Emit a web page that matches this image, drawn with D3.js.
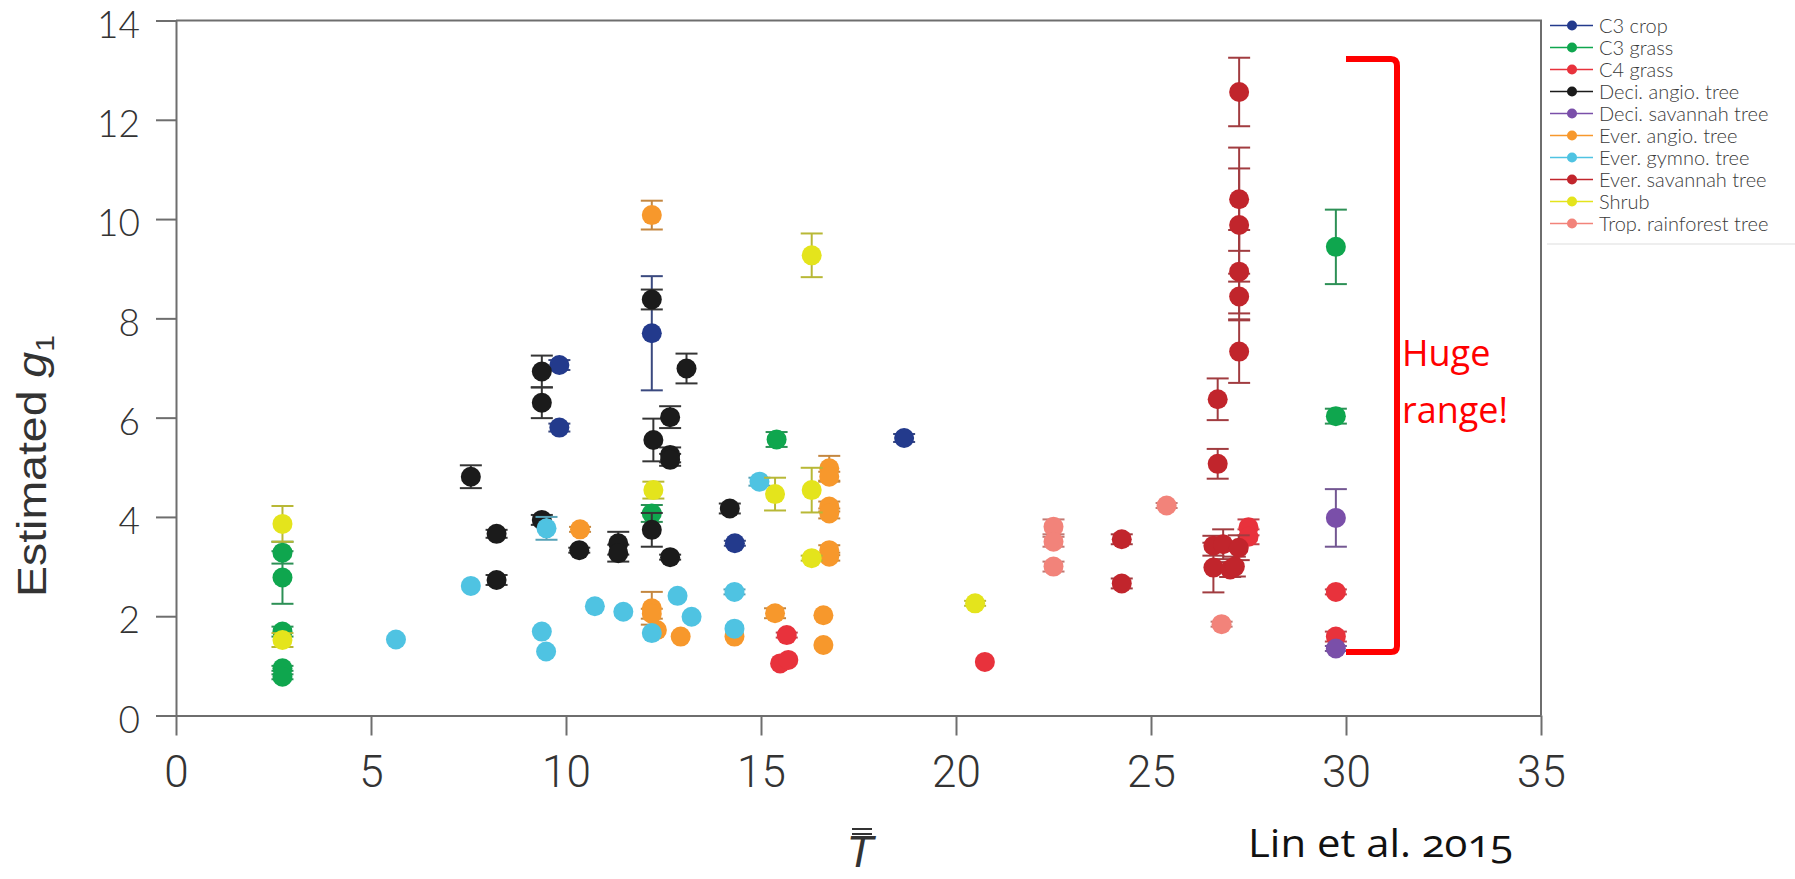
<!DOCTYPE html>
<html>
<head>
<meta charset="utf-8">
<script src="https://cdn.jsdelivr.net/npm/d3@7"></script>
<style>
  body { margin: 0; background: #fff; }
  svg { display: block; }
</style>
</head>
<body>
<svg id="chart" width="1795" height="879"></svg>
<script>
// series names + colours (legend order)
const seriesNames = ["C3 crop", "C3 grass", "C4 grass", "Deci. angio. tree", "Deci. savannah tree",
  "Ever. angio. tree", "Ever. gymno. tree", "Ever. savannah tree", "Shrub", "Trop. rainforest tree"];
const seriesColors = ["#233a8c", "#0fa64e", "#e8323c", "#1b1b1b", "#7a4fa9",
  "#f7982c", "#4fc3e2", "#c1252c", "#e4e41c", "#f2837a"];

// points as [Tbar, g1, error]
const c3Crop = [[9.83, 7.06, 0.1], [9.83, 5.80, 0.08], [12.2, 7.70, 1.15], [14.33, 3.47, 0.05], [18.67, 5.59, 0.08]];
const c3Grass = [[2.73, 3.28, 0.22], [2.73, 2.78, 0.53], [2.73, 1.69, 0.1], [2.73, 0.95, 0.05], [2.73, 0.78, 0.05],
  [12.2, 4.07, 0.17], [15.4, 5.56, 0.15], [29.74, 9.44, 0.75], [29.74, 6.03, 0.15]];
const c4Grass = [[15.66, 1.62, 0.05], [15.49, 1.05, 0], [15.7, 1.12, 0], [20.74, 1.08, 0], [27.5, 3.79, 0.16],
  [27.5, 3.6, 0.15], [29.74, 2.49, 0.05], [29.74, 1.59, 0.1]];
const deciAngio = [[7.56, 4.81, 0.23], [8.22, 3.66, 0.08], [8.22, 2.73, 0.1], [9.38, 6.93, 0.32], [9.38, 6.30, 0.31],
  [9.38, 3.94, 0.1], [10.34, 3.33, 0.05], [11.34, 3.47, 0.23], [11.34, 3.27, 0.17], [12.2, 8.38, 0.2],
  [12.24, 5.55, 0.43], [12.2, 3.74, 0.34], [12.67, 6.01, 0.22], [12.67, 5.25, 0.15], [12.67, 5.15, 0.12],
  [12.67, 3.19, 0.05], [13.09, 6.99, 0.3], [14.2, 4.17, 0.1]];
const deciSavannah = [[29.74, 3.98, 0.58], [29.74, 1.35, 0.05]];
const everAngio = [[10.36, 3.75, 0.05], [12.2, 10.08, 0.29], [12.2, 2.16, 0.33], [12.2, 2.05, 0.1], [12.33, 1.72, 0],
  [12.94, 1.59, 0], [14.32, 1.59, 0], [15.36, 2.06, 0.1], [16.6, 2.02, 0], [16.6, 1.42, 0], [16.75, 4.98, 0.25],
  [16.75, 4.81, 0.1], [16.75, 4.21, 0.1], [16.75, 4.07, 0.1], [16.75, 3.33, 0.1], [16.75, 3.2, 0.08]];
const everGymno = [[5.64, 1.53, 0], [7.56, 2.61, 0], [9.38, 1.69, 0], [9.49, 1.29, 0], [9.5, 3.77, 0.23],
  [10.74, 2.2, 0], [11.47, 2.09, 0], [12.2, 1.66, 0], [12.86, 2.41, 0], [13.22, 1.99, 0], [14.32, 2.49, 0.05],
  [14.32, 1.75, 0], [14.96, 4.71, 0.08]];
const everSavannah = [[24.25, 3.55, 0.1], [24.25, 2.66, 0.1], [26.6, 3.42, 0.2], [26.6, 2.98, 0.5],
  [26.71, 6.37, 0.42], [26.71, 5.07, 0.3], [26.85, 3.45, 0.3], [27.03, 2.94, 0.15], [27.15, 3.0, 0.2],
  [27.25, 3.38, 0.25], [27.26, 12.56, 0.69], [27.26, 10.40, 1.04], [27.26, 9.88, 1.14], [27.26, 8.94, 0.84],
  [27.26, 8.44, 0.46], [27.26, 7.33, 0.63]];
const shrub = [[2.73, 3.86, 0.36], [2.73, 1.52, 0.14], [12.24, 4.54, 0.17], [15.36, 4.46, 0.33], [16.3, 9.27, 0.44],
  [16.3, 4.54, 0.45], [16.3, 3.17, 0.05], [20.49, 2.26, 0.05]];
const tropRainforest = [[22.5, 3.8, 0.15], [22.5, 3.5, 0.1], [22.5, 3.0, 0.1], [25.4, 4.23, 0.05], [26.81, 1.84, 0.05]];

const seriesData = [c3Crop, c3Grass, c4Grass, deciAngio, deciSavannah, everAngio, everGymno, everSavannah, shrub, tropRainforest];

const xTicks = [0, 5, 10, 15, 20, 25, 30, 35];
const yTicks = [0, 2, 4, 6, 8, 10, 12, 14];

const svg = d3.select("#chart");
svg.append("rect").attr("width", 1795).attr("height", 879).attr("fill", "#fff");

const x = d3.scaleLinear().domain([0, 35]).range([176, 1541]);
const y = d3.scaleLinear().domain([0, 14]).range([715.5, 20.5]);

const axisColor = "#6e6e6e";

// box (top + right)
svg.append("path")
  .attr("d", `M${x(0)},${y(14)}H${x(35)}V${y(0)}`)
  .attr("fill", "none").attr("stroke", axisColor).attr("stroke-width", 2);

// x axis
const gx = svg.append("g").attr("transform", `translate(0,${y(0)})`)
  .call(d3.axisBottom(x).tickValues(xTicks).tickSize(20).tickSizeOuter(0).tickPadding(20));
gx.selectAll("text").attr("font-family", "Roboto").attr("font-weight", 300)
  .attr("font-size", 44).attr("fill", "#333");

// y axis
const gy = svg.append("g").attr("transform", `translate(${x(0)},0)`)
  .call(d3.axisLeft(y).tickValues(yTicks).tickSize(20).tickSizeOuter(0).tickPadding(16));
gy.selectAll("text").attr("font-family", "Lato").attr("font-weight", 300)
  .attr("font-size", 37).attr("dy", "0.45em").attr("fill", "#333");

svg.selectAll(".domain, .tick line").attr("stroke", axisColor).attr("stroke-width", 2);

// data marks
function errColor(c) { return d3.interpolateRgb(c, "#666")(0.35); }

seriesData.forEach(function (pts, i) {
  const g = svg.append("g");
  const ec = errColor(seriesColors[i]);
  const withErr = pts.filter(d => d[2] > 0);
  g.selectAll(".ev").data(withErr).enter().append("line")
    .attr("x1", d => x(d[0])).attr("x2", d => x(d[0]))
    .attr("y1", d => y(d[1] - d[2])).attr("y2", d => y(d[1] + d[2]))
    .attr("stroke", ec).attr("stroke-width", 2);
  [-1, 1].forEach(function (s) {
    g.selectAll(".cap").data(withErr, (d, j) => s + "-" + j).enter().append("line")
      .attr("x1", d => x(d[0]) - 11).attr("x2", d => x(d[0]) + 11)
      .attr("y1", d => y(d[1] + s * d[2])).attr("y2", d => y(d[1] + s * d[2]))
      .attr("stroke", ec).attr("stroke-width", 2);
  });
  g.selectAll("circle").data(pts).enter().append("circle")
    .attr("cx", d => x(d[0])).attr("cy", d => y(d[1])).attr("r", 10)
    .attr("fill", seriesColors[i]);
});

// legend
const legend = svg.append("g");
seriesNames.forEach(function (name, i) {
  const ly = 25.5 + i * 22;
  legend.append("line").attr("x1", 1550).attr("x2", 1593).attr("y1", ly).attr("y2", ly)
    .attr("stroke", seriesColors[i]).attr("stroke-width", 1.5);
  legend.append("circle").attr("cx", 1572).attr("cy", ly).attr("r", 5).attr("fill", seriesColors[i]);
  legend.append("text").attr("x", 1599).attr("y", ly).attr("dy", "0.36em")
    .attr("font-family", "Lato").attr("font-weight", 300).attr("font-size", 20).attr("fill", "#3a3a3a")
    .text(name);
});
legend.append("line").attr("x1", 1547).attr("x2", 1795).attr("y1", 244).attr("y2", 244)
  .attr("stroke", "#ddd").attr("stroke-width", 1);

// axis titles
const yTitle = svg.append("text")
  .attr("transform", "translate(46,466) rotate(-90)")
  .attr("text-anchor", "middle")
  .attr("font-family", "Liberation Sans").attr("font-size", 40).attr("fill", "#333")
  .attr("textLength", 262).attr("lengthAdjust", "spacingAndGlyphs");
yTitle.append("tspan").text("Estimated ");
yTitle.append("tspan").attr("font-style", "italic").text("g");
yTitle.append("tspan").attr("font-size", 26).attr("dy", 8).text("1");

svg.append("text").attr("x", 860).attr("y", 867).attr("text-anchor", "middle")
  .attr("font-family", "Liberation Sans").attr("font-style", "italic").attr("font-size", 44)
  .attr("fill", "#333").text("T");
[829, 834].forEach(function (by) {
  svg.append("line").attr("x1", 852).attr("x2", 872).attr("y1", by).attr("y2", by)
    .attr("stroke", "#333").attr("stroke-width", 2);
});

// annotation
svg.append("path")
  .attr("d", "M1346,59 H1391 Q1397,59 1397,66 V646 Q1397,652 1391,652 H1346")
  .attr("fill", "none").attr("stroke", "#ff0000").attr("stroke-width", 6);
svg.append("text").attr("x", 1402).attr("y", 366).attr("font-family", "Open Sans")
  .attr("font-size", 36).attr("fill", "#ff0000").text("Huge");
svg.append("text").attr("x", 1402).attr("y", 423).attr("font-family", "Open Sans")
  .attr("font-size", 36).attr("fill", "#ff0000").text("range!");

svg.append("text").attr("x", 1248).attr("y", 857).attr("font-family", "Open Sans")
  .attr("font-size", 38).attr("fill", "#111").attr("textLength", 265).attr("lengthAdjust", "spacingAndGlyphs")
  .style("font-variant-numeric", "oldstyle-nums")
  .text("Lin et al. 2015");
</script>
</body>
</html>
